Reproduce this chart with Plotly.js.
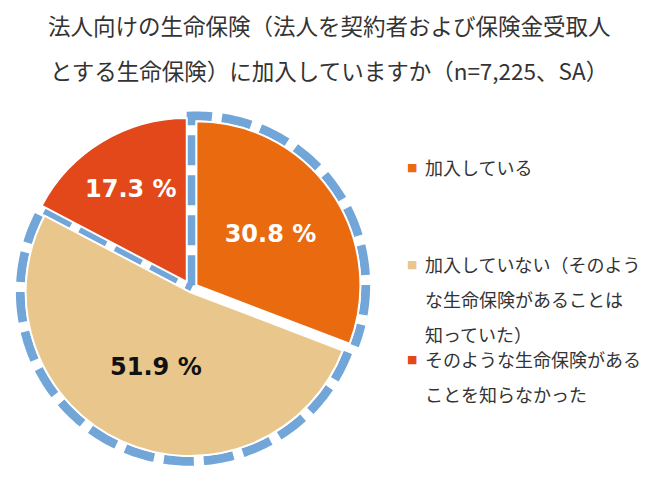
<!DOCTYPE html>
<html>
<head>
<meta charset="utf-8">
<script src="https://cdn.plot.ly/plotly-3.0.1.min.js"></script>
<style>html,body{margin:0;padding:0;background:#fff;}#chart{width:650px;height:486px;}</style>
</head>
<body>
<div id="chart"></div>
<script>
// ---- data ----
const labels = ['加入している', '加入していない（そのような生命保険があることは知っていた）', 'そのような生命保険があることを知らなかった'];
const values = [30.8, 51.9, 17.3];
const colors = ['#EA6A10', '#E8C68C', '#E2481A'];
const textColors = ['#FFFFFF', '#111111', '#FFFFFF'];
const pulls = [0.04, 0.02, 0.05];
const dashedSlices = [true, true, false];
const legendLines = [['加入している'], ['加入していない（そのよう', 'な生命保険があることは', '知っていた）'], ['そのような生命保険がある', 'ことを知らなかった']];
const titleLines = ['法人向けの生命保険（法人を契約者および保険金受取人', 'とする生命保険）に加入していますか（n=7,225、SA）'];

// ---- layout geometry (pixels) ----
const W = 650, H = 486;
const CX = 191, CY = 289, R = 164;
const maxPull = Math.max(...pulls);
const half = R * (1 + maxPull);
const RR = 1.12;           // polar radial range (in pie radius units)
const D = 0.032;           // outward offset of dashed outline
const legendX = 423, legendMarkX = 412;
const legendY = [[167], [264, 299, 334], [359, 394]];

const total = values.reduce((a, b) => a + b, 0);
const starts = []; let acc = 0;
values.forEach(v => { starts.push(acc / total * 360); acc += v; });
const ends = values.map((v, i) => starts[i] + v / total * 360);

const traces = [{
  type: 'pie', values: values, labels: labels, sort: false, direction: 'clockwise', rotation: 0,
  pull: pulls, marker: {colors: colors, line: {color: '#FFFFFF', width: 2}},
  texttemplate: '%{value:.1f} %', textposition: 'inside', insidetextorientation: 'horizontal',
  insidetextfont: {family: 'DejaVu Sans', size: 24, color: textColors, weight: 'bold'},
  domain: {x: [(CX - half) / W, (CX + half) / W], y: [1 - (CY + half) / H, 1 - (CY - half) / H]},
  showlegend: false, hoverinfo: 'label+percent'
}];

const layout = {
  width: W, height: H, margin: {l: 0, r: 0, t: 0, b: 0},
  paper_bgcolor: '#FFFFFF', showlegend: false,
  title: {text: titleLines[0], font: {family: 'Noto Sans CJK JP', size: 22.5, color: '#333333'},
          x: 48 / W, xanchor: 'left', xref: 'paper', y: 1 - 27 / H, yref: 'container', yanchor: 'middle'},
  annotations: [{text: titleLines[1], xref: 'paper', yref: 'paper', x: 48 / W, y: 1 - 70 / H,
                 xanchor: 'left', yanchor: 'middle', showarrow: false,
                 font: {family: 'Noto Sans CJK JP', size: 22.5, color: '#333333'}}]
};

// dashed outlines on polar subplots aligned with the (pulled) slices
let pIdx = 0;
values.forEach((v, i) => {
  if (!dashedSlices[i]) return;
  pIdx++;
  const key = pIdx === 1 ? 'polar' : 'polar' + pIdx;
  const mid = (starts[i] + ends[i]) / 2 * Math.PI / 180;
  const cx = CX + pulls[i] * R * Math.sin(mid);
  const cy = CY - pulls[i] * R * Math.cos(mid);
  const hp = R * RR;
  layout[key] = {
    domain: {x: [(cx - hp) / W, (cx + hp) / W], y: [1 - (cy + hp) / H, 1 - (cy - hp) / H]},
    bgcolor: 'rgba(0,0,0,0)',
    radialaxis: {visible: false, range: [0, RR]},
    angularaxis: {visible: false, rotation: 90, direction: 'clockwise'}
  };
  const Rd = 1 + D;
  const da = Math.asin(D / Rd) * 180 / Math.PI;
  const r = [], th = [];
  if (i === 0) {
    r.push(D); th.push(starts[i] - 90);
    for (let a = starts[i] - da; a < ends[i]; a += 1) { r.push(Rd); th.push(a); }
    r.push(Rd); th.push(ends[i]);
  } else {
    for (let a = starts[i]; a < ends[i] + da; a += 1) { r.push(Rd); th.push(a); }
    r.push(Rd); th.push(ends[i] + da);
    r.push(D); th.push(ends[i] + 90);
  }
  traces.push({type: 'scatterpolar', subplot: key, mode: 'lines', r: r, theta: th,
               line: {color: '#72A5D8', width: 9, dash: '30px,10px'}, hoverinfo: 'skip', showlegend: false});
});

// legend built from labels
legendLines.forEach((lines, i) => {
  layout.annotations.push({text: '■', xref: 'paper', yref: 'paper', x: legendMarkX / W, y: 1 - legendY[i][0] / H,
    xanchor: 'center', yanchor: 'middle', showarrow: false, font: {family: 'DejaVu Sans', size: 11, color: colors[i]}});
  lines.forEach((t, j) => {
    layout.annotations.push({text: t, xref: 'paper', yref: 'paper', x: legendX / W, y: 1 - legendY[i][j] / H,
      xanchor: 'left', yanchor: 'middle', showarrow: false, font: {family: 'Noto Sans CJK JP', size: 18, color: '#333333'}});
  });
});

Plotly.newPlot('chart', traces, layout, {displayModeBar: false, staticPlot: true});
</script>
</body>
</html>
